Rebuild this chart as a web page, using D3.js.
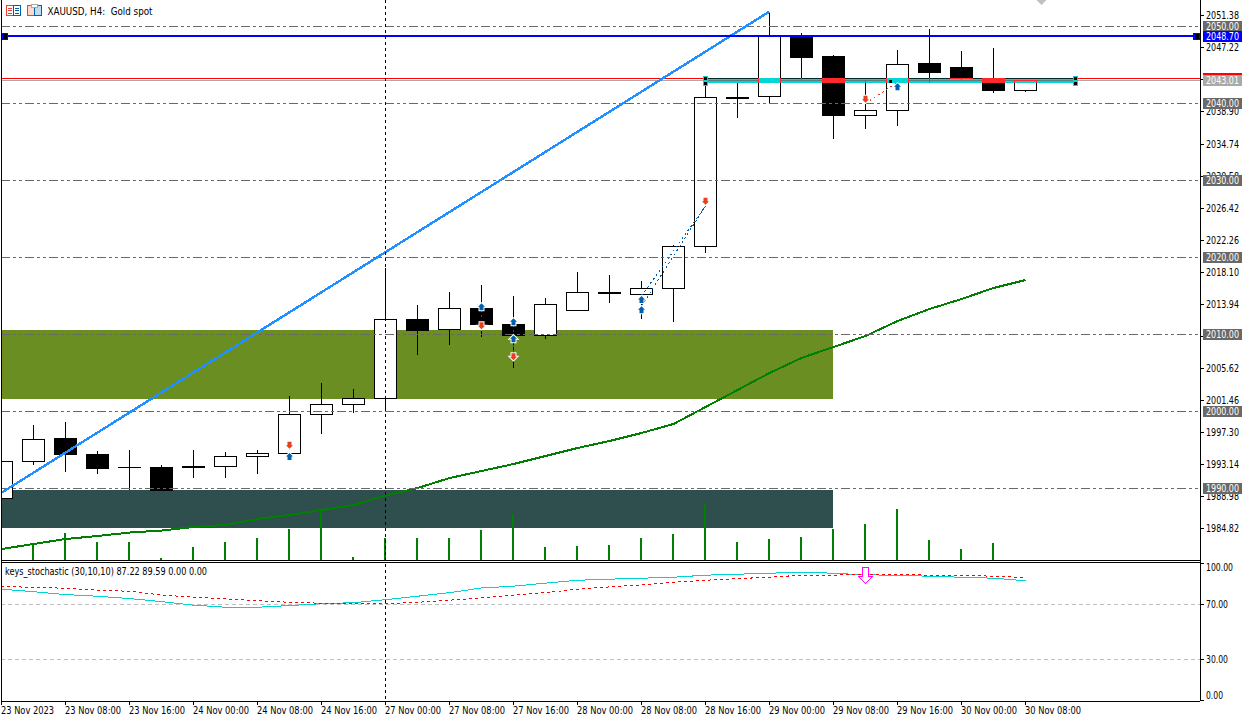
<!DOCTYPE html>
<html lang="en">

<head>
    <meta charset="UTF-8">
    <title>XAUUSD, H4</title>
    <style>
        html, body {
            margin: 0;
            padding: 0;
            background: #fff;
        }

        svg {
            display: block;
        }

        text {
            font-family: "DejaVu Sans", sans-serif;
            font-stretch: condensed;
            font-size: 10.5px;
            fill: #000;
        }

        .domain {
            display: none;
        }
    </style>
</head>

<body>
    <svg width="1249" height="722" id="svg"></svg>
    <script src="https://d3js.org/d3.v7.min.js"></script>
    <script>
        // values
        const opens = [1988.76, 1993.48, 1996.43, 1994.48, 1992.79, 1992.79, 1992.89, 1992.83, 1994.13, 1994.52, 1999.63, 2000.88, 2001.75, 2012.01, 2010.62, 2013.44, 2011.36, 2009.89, 2013.14, 2015.45, 2015.22, 2016.00, 2021.45, 2040.82, 2040.88, 2048.76, 2046.04, 2038.41, 2039.12, 2045.13, 2044.74, 2043.31, 2041.66]
        const highs = [1994.00, 1998.25, 1998.63, 1994.87, 1995.00, 1993.05, 1995.00, 1994.74, 1995.00, 2002.01, 2003.70, 2002.92, 2018.63, 2013.83, 2015.52, 2016.43, 2015.00, 2014.74, 2018.08, 2017.73, 2016.91, 2021.62, 2043.05, 2042.66, 2051.92, 2049.15, 2046.30, 2043.05, 2046.95, 2049.67, 2046.82, 2047.21, 2043.05]
        const lows = [1988.00, 1993.05, 1992.18, 1991.88, 1989.80, 1989.67, 1991.40, 1991.40, 1991.88, 1994.52, 1997.08, 1999.84, 2000.06, 2007.34, 2008.63, 2009.71, 2005.69, 2009.41, 2013.14, 2014.13, 2012.05, 2011.66, 2020.62, 2038.15, 2040.06, 2043.05, 2035.43, 2036.73, 2037.12, 2042.70, 2043.05, 2041.40, 2041.49]
        const closes = [1993.57, 1996.39, 1994.39, 1992.66, 1992.75, 1989.71, 1992.69, 1994.18, 1994.57, 1999.63, 2000.93, 2001.71, 2012.01, 2010.58, 2013.40, 2011.27, 2009.84, 2013.92, 2015.48, 2015.26, 2016.00, 2021.45, 2040.80, 2040.61, 2048.76, 2045.95, 2038.41, 2039.12, 2045.09, 2044.00, 2043.27, 2041.66, 2043.05]
        const volumes = [0, 1600, 2700, 1800, 1800, 200, 1300, 1800, 2200, 3100, 5000, 300, 2200, 2200, 2200, 3000, 4600, 1300, 1400, 1500, 2200, 2600, 5700, 1800, 2100, 2300, 3100, 3600, 5100, 2000, 1100, 1700, 0]
        const maValues = [1982.14, 1982.79, 1983.44, 1983.83, 1984.28, 1984.54, 1985.00, 1985.26, 1986.04, 1986.56, 1987.21, 1987.86, 1989.09, 1990.06, 1991.36, 1992.27, 1993.18, 1994.22, 1995.26, 1996.17, 1997.21, 1998.38, 2000.58, 2002.79, 2005.00, 2006.95, 2008.38, 2009.80, 2011.75, 2013.31, 2014.61, 2016.04, 2017.08]
        const stochMain = [81.1, 79.3, 77.2, 76.0, 74.3, 72.1, 69.5, 68.0, 68.0, 69.2, 70.6, 71.3, 73.5, 76.0, 78.6, 82.0, 83.3, 85.5, 87.6, 88.4, 89.1, 89.8, 91.3, 92.0, 92.7, 93.5, 92.7, 91.5, 91.3, 90.5, 89.8, 89.1, 87.22]
        const stochSignal = [83.0, 82.5, 81.8, 80.4, 79.6, 76.9, 75.3, 74.0, 72.8, 71.6, 70.9, 70.6, 70.6, 71.6, 73.1, 74.8, 76.7, 78.6, 81.1, 82.8, 84.2, 86.2, 87.6, 88.8, 89.8, 91.3, 91.3, 92.0, 92.0, 91.3, 91.3, 90.5, 89.59]

        const priceTicks = [2051.38, 2047.22, 2043.06, 2038.90, 2034.74, 2030.58, 2026.42, 2022.26, 2018.10, 2013.94, 2009.78, 2005.62, 2001.46, 1997.30, 1993.14, 1988.98, 1984.82]
        // these two sit fully under a price tag, only the tick mark shows
        const coveredTicks = [2043.06, 2009.78]
        const stochTicks = [100, 70, 30, 0]
        const stochLevels = [70, 30]
        const levels = [2050, 2040, 2030, 2020, 2010, 2000, 1990]
        const timeBars = [0, 2, 4, 6, 8, 10, 12, 14, 16, 18, 20, 22, 24, 26, 28, 30, 32]
        const timeLabels = ["23 Nov 2023", "23 Nov 08:00", "23 Nov 16:00", "24 Nov 00:00", "24 Nov 08:00", "24 Nov 16:00", "27 Nov 00:00", "27 Nov 08:00", "27 Nov 16:00", "28 Nov 00:00", "28 Nov 08:00", "28 Nov 16:00", "29 Nov 00:00", "29 Nov 08:00", "29 Nov 16:00", "30 Nov 00:00", "30 Nov 08:00"]

        const bluePrice = 2048.70
        const askPrice = 2043.27
        const bidPrice = 2043.01
        const crossBar = 12

        // zones: first bar, last bar, top price, bottom price
        const greenZone = [0, 26, 2010.58, 2001.66]
        const darkZone = [0, 26, 1989.80, 1984.91]
        const xorBox = [22, 33.56, 2043.27, 2042.60]
        const trendBars = [0, 24]
        const trendPrices = [1989.41, 2051.95]

        // trade arrows
        const buyBars = [9, 15, 16, 16, 20, 20, 28]
        const buyPrices = [1994.09, 2013.53, 2011.58, 2009.38, 2014.48, 2013.14, 2042.10]
        const sellBars = [9, 15, 16, 22, 27]
        const sellPrices = [1995.69, 2011.19, 2007.17, 2027.38, 2040.62]

        // trade lines: bar from, price from, bar to, price to
        const buyLines = [
            [9, 1995.26, 9, 1994.35],
            [15, 2013.18, 15, 2011.88],
            [16, 2011.23, 16, 2007.60],
            [20, 2015.00, 22, 2026.69],
            [20, 2013.70, 22, 2026.69]
        ]
        const sellLines = [[27, 2040.02, 28, 2042.75]]

        const svg = d3.select("svg#svg")
        svg.append("rect").attr("width", 1249).attr("height", 722).attr("fill", "#fff")

        const xScale = d3.scaleLinear().domain([0, 32]).range([1, 1025])
        const yPrice = d3.scaleLinear().domain([2050, 1990]).range([26.5, 488.5])
        const yVol = d3.scaleLinear().domain([0, 6000]).range([560, 500])
        const yStoch = d3.scaleLinear().domain([100, 0]).range([563.2, 700.8])
        const cx = i => xScale(i) + 0.5

        svg.append("clipPath").attr("id", "mainClip").append("rect")
            .attr("x", 1).attr("y", 0).attr("width", 1199).attr("height", 560)

        const g = svg.append("g").attr("clip-path", "url(#mainClip)").attr("shape-rendering", "crispEdges")

        // the clip makes this group isolated, so it needs its own white for the blend below
        g.append("rect").attr("x", 1).attr("y", 0).attr("width", 1199).attr("height", 560).attr("fill", "#fff")

        // zones sit under everything
        function zone(z, color) {
            g.append("rect")
                .attr("x", xScale(z[0]))
                .attr("y", yPrice(z[2]))
                .attr("width", xScale(z[1]) - xScale(z[0]))
                .attr("height", yPrice(z[3]) - yPrice(z[2]))
                .attr("fill", color)
        }
        zone(greenZone, "#6B8E23")
        zone(darkZone, "#2F4F4F")

        function hline(p, color, w, shift) {
            g.append("line").attr("x1", 1).attr("x2", 1200)
                .attr("y1", yPrice(p) + shift).attr("y2", yPrice(p) + shift)
                .attr("stroke", color).attr("stroke-width", w)
        }
        // bid and ask are behind the candles
        hline(bidPrice, "#A9A9A9", 1, 0)
        hline(askPrice, "#FF0000", 1, 0)

        // volume
        g.append("g").selectAll("rect").data(volumes).join("rect")
            .attr("x", (d, i) => xScale(i) - 1)
            .attr("y", d => yVol(d))
            .attr("width", 2)
            .attr("height", d => yVol(0) - yVol(d))
            .attr("fill", "#008000")

        // candles
        const candles = g.append("g").selectAll("g").data(opens).join("g")
        candles.append("line")
            .attr("x1", (d, i) => cx(i)).attr("x2", (d, i) => cx(i))
            .attr("y1", (d, i) => yPrice(highs[i]))
            .attr("y2", (d, i) => yPrice(lows[i]))
            .attr("stroke", "#000")
        candles.append("rect")
            .attr("x", (d, i) => cx(i) - 11)
            .attr("y", (d, i) => yPrice(Math.max(opens[i], closes[i])))
            .attr("width", 22)
            .attr("height", (d, i) => Math.abs(yPrice(opens[i]) - yPrice(closes[i])))
            .attr("fill", (d, i) => closes[i] >= opens[i] ? "#fff" : "#000")
            .attr("stroke", "#000")

        // moving average
        const line = d3.line().x((d, i) => cx(i)).y(d => yPrice(d))
        g.append("path").datum(maValues)
            .attr("fill", "none").attr("stroke", "#008000").attr("stroke-width", 2)
            .attr("d", line)

        // round number levels
        g.append("g").selectAll("line").data(levels).join("line")
            .attr("x1", 1).attr("x2", 1200)
            .attr("y1", d => yPrice(d)).attr("y2", d => yPrice(d))
            .attr("stroke", "#696969")
            .attr("stroke-dasharray", "9,3,3,3,3,3")

        // trend line
        g.append("line")
            .attr("x1", xScale(trendBars[0])).attr("y1", yPrice(trendPrices[0]))
            .attr("x2", cx(trendBars[1])).attr("y2", yPrice(trendPrices[1]))
            .attr("stroke", "#1E90FF").attr("stroke-width", 2.4)

        hline(bluePrice, "#0000FF", 2, -0.5)

        // thin box is xor-drawn in the terminal, difference gives the same colours
        g.append("rect")
            .attr("x", cx(xorBox[0]))
            .attr("y", yPrice(xorBox[2]))
            .attr("width", xScale(xorBox[1]) - cx(xorBox[0]))
            .attr("height", yPrice(xorBox[3]) - yPrice(xorBox[2]))
            .attr("fill", "#FF2929")
            .style("mix-blend-mode", "difference")

        // trade lines and arrows
        function tradeLines(rows, color) {
            g.append("g").selectAll("line").data(rows).join("line")
                .attr("x1", d => cx(d[0])).attr("y1", d => yPrice(d[1]))
                .attr("x2", d => cx(d[2])).attr("y2", d => yPrice(d[3]))
                .attr("stroke", color)
                .attr("stroke-dasharray", "2,3")
        }
        tradeLines(buyLines, "#005FAF")
        tradeLines(sellLines, "#E8401F")

        const upArrow = "M0,-4L3.5,-0.5L2,-0.5L2,3L-2,3L-2,-0.5L-3.5,-0.5Z"
        const downArrow = "M0,4L3.5,0.5L2,0.5L2,-3L-2,-3L-2,0.5L-3.5,0.5Z"
        function arrows(bars, prices, path, color) {
            g.append("g").selectAll("path").data(bars).join("path")
                .attr("transform", (d, i) => `translate(${cx(d)},${yPrice(prices[i])})`)
                .attr("d", path)
                .attr("fill", color)
                .attr("stroke", "#fff")
                .attr("stroke-width", 2)
                .attr("paint-order", "stroke")
                .attr("shape-rendering", "auto")
        }
        arrows(buyBars, buyPrices, upArrow, "#005FAF")
        arrows(sellBars, sellPrices, downArrow, "#E8401F")

        // selection handles
        function handle(x, y, w, h, color) {
            g.append("rect").attr("x", x).attr("y", y).attr("width", w).attr("height", h).attr("fill", color)
        }
        handle(2, 33, 6, 7, "#0000FF")
        handle(3, 34, 4, 5, "#000")
        handle(1193, 33, 7, 7, "#0000FF")
        handle(1195, 34, 4, 5, "#000")
        ;[xScale(xorBox[0]), xScale(xorBox[1])].forEach(x => {
            handle(x - 2, 76, 5, 10, "#00D5D5")
            handle(x - 1, 77, 3, 3, "#000")
            handle(x - 1, 82, 3, 3, "#000")
        })
        handle(889, 80, 3, 3, "#000")

        // grey marker cut by the top edge
        g.append("path")
            .attr("transform", `translate(${cx(32.5)},0)`)
            .attr("d", "M-6,-1L6,-1L0,5Z")
            .attr("fill", "#C0C0C0")
            .attr("shape-rendering", "auto")

        // stochastic pane
        const gs = svg.append("g").attr("shape-rendering", "crispEdges")
        gs.append("g").selectAll("line").data(stochLevels).join("line")
            .attr("x1", 1).attr("x2", 1200)
            .attr("y1", d => yStoch(d)).attr("y2", d => yStoch(d))
            .attr("stroke", "#C0C0C0")
            .attr("stroke-dasharray", "4,3")
        const stochLine = d3.line().x((d, i) => cx(i)).y(d => yStoch(d))
        gs.append("path").datum(stochMain)
            .attr("fill", "none").attr("stroke", "#00D5D5").attr("d", stochLine)
        gs.append("path").datum(stochSignal)
            .attr("fill", "none").attr("stroke", "#FF0000")
            .attr("stroke-dasharray", "3,3").attr("d", stochLine)
        gs.append("path")
            .attr("transform", `translate(${cx(27)},${yStoch(91.1)})`)
            .attr("d", "M-3,-7.5L3,-7.5L3,1L7,1L0,8L-7,1L-3,1Z")
            .attr("fill", "#fff").attr("stroke", "#FF00FF")

        // axes
        const yAxis = d3.axisRight(yPrice).tickValues(priceTicks).tickSize(4).tickPadding(2)
            .tickFormat(d => coveredTicks.includes(d) ? "" : d3.format(".2f")(d)).offset(0)
        const priceAxis = svg.append("g").attr("transform", "translate(1200,0)").call(yAxis)
        const stochAxis = svg.append("g").attr("transform", "translate(1200,0)")
            .call(d3.axisRight(yStoch).tickValues(stochTicks).tickSize(4).tickPadding(2).tickFormat(d3.format(".2f")).offset(0))
        stochAxis.selectAll("text").attr("y", 0)
            .attr("dy", d => d === 100 ? "8px" : d === 0 ? "-1.5px" : "3.5px")
        const timeAxis = svg.append("g").attr("transform", "translate(0,701)")
            .call(d3.axisBottom(xScale).tickValues(timeBars).tickSize(4).tickPadding(2).tickFormat((d, i) => timeLabels[i]))
        timeAxis.selectAll("text").attr("text-anchor", "start").attr("x", -0.5)
            .attr("y", 5).attr("dy", "8px")
            .attr("textLength", 56).attr("lengthAdjust", "spacingAndGlyphs")
        timeAxis.select(".tick text").attr("textLength", 53)
        priceAxis.selectAll("text").filter(d => !coveredTicks.includes(d))
            .attr("textLength", 33).attr("lengthAdjust", "spacingAndGlyphs").attr("y", 0).attr("dy", "3.5px")
        stochAxis.selectAll("text")
            .attr("textLength", d => d === 100 ? 27 : d === 0 ? 17 : 22)
            .attr("lengthAdjust", "spacingAndGlyphs")
        svg.selectAll(".tick line").attr("stroke", "#000").attr("shape-rendering", "crispEdges")

        // frame
        function frame(x1, y1, x2, y2) {
            svg.append("line").attr("x1", x1).attr("y1", y1).attr("x2", x2).attr("y2", y2)
                .attr("stroke", "#000").attr("shape-rendering", "crispEdges")
        }
        frame(1.5, 0, 1.5, 701)
        frame(1200.5, 0, 1200.5, 701)
        frame(1, 560.5, 1200, 560.5)
        frame(1, 562.5, 1200, 562.5)
        frame(1, 701.5, 1200, 701.5)

        // crosshair
        svg.append("line")
            .attr("x1", cx(crossBar)).attr("x2", cx(crossBar))
            .attr("y1", 0).attr("y2", 701)
            .attr("stroke", "#000").attr("stroke-dasharray", "3,3")
            .attr("shape-rendering", "crispEdges")

        // price tags on the right
        function tag(p, bg, showText) {
            const y = Math.floor(yPrice(p))
            const t = svg.append("g").attr("transform", `translate(1203,${y})`)
            t.append("rect").attr("x", 0).attr("y", -5).attr("width", 39).attr("height", 11)
                .attr("fill", bg).attr("shape-rendering", "crispEdges")
            if (showText) {
                t.append("text").attr("x", 3).attr("y", 4).text(p.toFixed(2))
                    .style("fill", "#fff")
                    .attr("textLength", 33).attr("lengthAdjust", "spacingAndGlyphs")
            }
        }
        levels.forEach(p => tag(p, "#696969", true))
        tag(bluePrice, "#0000FF", true)
        tag(askPrice, "#FF0000", false)
        tag(bidPrice, "#A9A9A9", true)

        // header icons
        function icon(x, left, right) {
            const ic = svg.append("g").attr("transform", `translate(${x},5)`).attr("shape-rendering", "crispEdges")
            ic.append("rect").attr("x", 0.5).attr("y", 0.5).attr("width", 7).attr("height", 10).attr("fill", left[0]).attr("stroke", left[1])
            ic.append("rect").attr("x", 7.5).attr("y", 0.5).attr("width", 7).attr("height", 10).attr("fill", right[0]).attr("stroke", right[1])
            return ic
        }
        const ic1 = icon(6, ["#fff", "#E8432E"], ["#fff", "#0060A8"])
        ;[3, 5, 8].forEach(y => {
            ic1.append("line").attr("x1", 2).attr("x2", 6).attr("y1", y + 0.5).attr("y2", y + 0.5).attr("stroke", "#E8432E")
            ic1.append("line").attr("x1", 9).attr("x2", 13).attr("y1", y + 0.5).attr("y2", y + 0.5).attr("stroke", "#0060A8")
        })
        const ic2 = icon(27, ["#FFD8CC", "#E8432E"], ["#BFDDF2", "#0060A8"])
        ic2.append("rect").attr("x", 4.5).attr("y", -0.5).attr("width", 6).attr("height", 3).attr("fill", "#fff").attr("stroke", "#A9A9A9")

        // captions
        svg.append("text").attr("x", 47.5).attr("y", 15).text("XAUUSD, H4:  Gold spot")
            .attr("xml:space", "preserve")
            .attr("textLength", 105).attr("lengthAdjust", "spacingAndGlyphs")
        svg.append("text").attr("x", 5).attr("y", 575).text("keys_stochastic (30,10,10) 87.22 89.59 0.00 0.00")
            .attr("textLength", 202).attr("lengthAdjust", "spacingAndGlyphs")
    </script>
</body>

</html>
